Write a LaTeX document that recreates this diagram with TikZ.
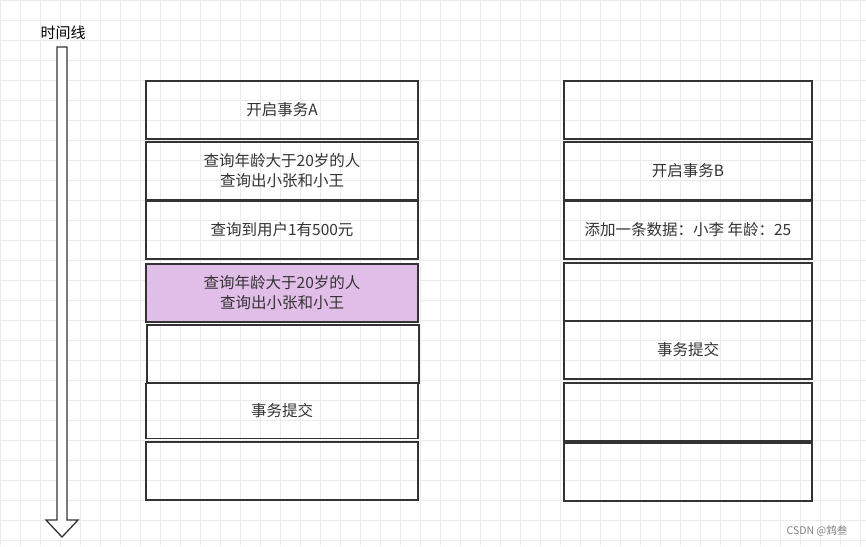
\documentclass[tikz,border=0pt]{standalone}
\usepackage{fontspec}
\setmainfont{Noto Sans CJK SC}
\usetikzlibrary{positioning}
\definecolor{lilac}{RGB}{225,190,231}

\begin{document}
\begin{tikzpicture}[x=1pt,y=-1pt,thick,
    cell/.style={draw=black!80,line width=1.6pt,minimum width=272pt,minimum height=58pt,
      inner sep=0pt,align=center,font=\fontsize{15.5}{20}\selectfont,text=black!80},
    rcell/.style={cell,minimum width=248pt}]

\useasboundingbox (0,0) rectangle (866,546);
% grid
\draw[black!8,thin] (0,0) grid[step=20pt] (866,546);

% time line
\node (tl) at (63,33) {\fontsize{15}{17}\selectfont 时间线};
\draw[black!80,line width=1.3pt,fill=white]
  (57,47) -- (67,47) -- (67,520) -- (78,520) -- (62,537) -- (46,520) -- (57,520) -- cycle;

% transaction A
\node[cell] (a1) at (282,110) {开启事务A};
\node[cell] (a2) at (282,171) {查询年龄大于20岁的人\\查询出小张和小王};
\node[cell] (a3) at (282,230) {查询到用户1有500元};
\node[cell,fill=lilac] (a4) at (282,293) {查询年龄大于20岁的人\\查询出小张和小王};
\node[cell] (a5) at (283,354) {};
\node[cell,minimum height=55pt] (a6) at (282,411) {事务提交};
\node[cell] (a7) at (282,471) {};

% transaction B
\node[rcell] (b1) at (688,110) {};
\node[rcell] (b2) at (688,171) {开启事务B};
\node[rcell] (b3) at (688,230) {添加一条数据：小李 年龄：25};
\node[rcell] (b4) at (688,292) {};
\node[rcell] (b5) at (688,350) {事务提交};
\node[rcell,minimum height=58pt] (b6) at (688,412) {};
\node[rcell] (b7) at (688,472) {};

\node[text=black!50,font=\fontsize{10.5}{12}\selectfont] (wm) at (817,531) {CSDN @鸩叁};
\end{tikzpicture}
\end{document}
